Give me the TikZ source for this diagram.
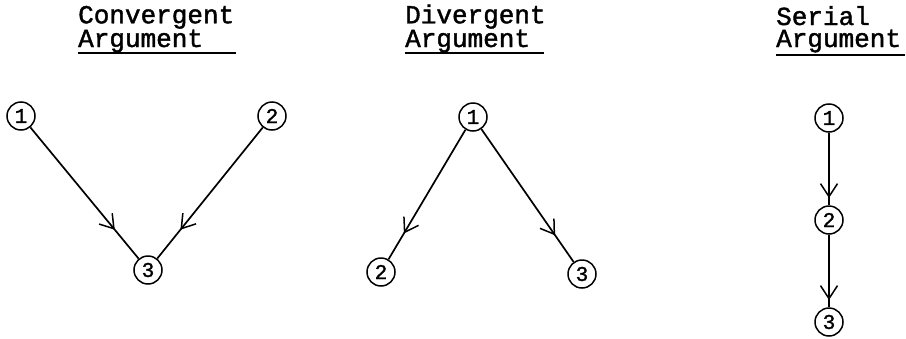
\documentclass[tikz,border=0pt]{standalone}
\usepackage{fontspec}
\setmonofont{Liberation Mono}[FakeBold=1.5]
\usetikzlibrary{arrows.meta,decorations.markings}
\tikzset{
  heading/.style={font=\ttfamily\fontsize{26}{22}\selectfont, inner sep=0pt,
                  anchor=base west, align=left},
  uline/.style={line width=1.5pt},
  claim/.style={draw, circle, line width=1.5pt, minimum size=28pt, inner sep=0pt,
                font=\ttfamily\fontsize{21}{21}\selectfont},
  support/.style={line width=1.7pt, postaction={decorate},
    decoration={markings, mark=at position #1 with {\arrow{Straight Barb[length=13pt, width=17pt, line width=1.5pt]}}}}
}
\begin{document}
\begin{tikzpicture}[x=1pt, y=-1pt]
\useasboundingbox (0,0) rectangle (906,338);

% headings, each two lines set tight (anchored on the last baseline)
\node[heading] (conv) at (78,47) {Convergent\\Argument};
\draw[uline] (78,53) -- (236,53);
\node[heading] (div) at (405,47) {Divergent\\Argument};
\draw[uline] (405,53) -- (544,53);
\node[heading] (ser) at (776,47) {Serial\\Argument};
\draw[uline] (776,55) -- (905,55);

% convergent: two premises meet in one conclusion
\node[claim] (c1) at (21,116) {1};
\node[claim] (c2) at (272,116) {2};
\node[claim] (c3) at (148,270) {3};
\draw[support=0.78] (c1) -- (c3);
\draw[support=0.78] (c2) -- (c3);

% divergent: one premise supports two conclusions
\node[claim] (d1) at (473,117) {1};
\node[claim] (d2) at (381,272) {2};
\node[claim] (d3) at (582,274) {3};
\draw[support=0.80] (d1) -- (d2);
\draw[support=0.80] (d1) -- (d3);

% serial: a chain
\node[claim] (s1) at (829,118) {1};
\node[claim] (s2) at (829,220) {2};
\node[claim] (s3) at (829,322) {3};
\draw[support=0.9] (s1) -- (s2);
\draw[support=0.9] (s2) -- (s3);
\end{tikzpicture}
\end{document}
